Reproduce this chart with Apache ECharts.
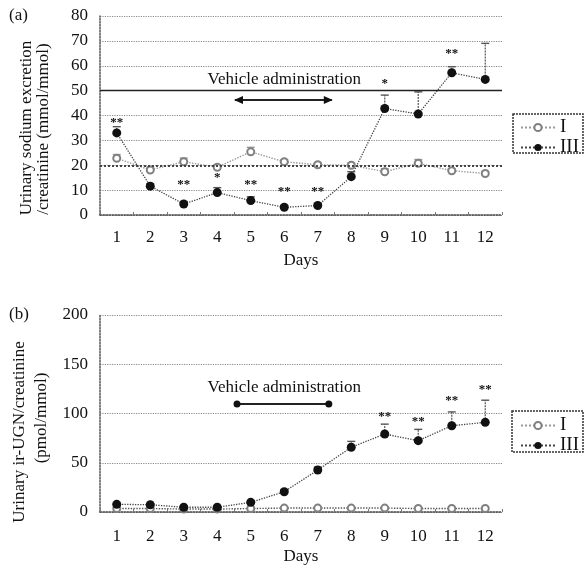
<!DOCTYPE html>
<html><head><meta charset="utf-8">
<script src="https://cdn.jsdelivr.net/npm/echarts@6/dist/echarts.min.js"></script>
<style>html,body{margin:0;padding:0;background:#fff}#c{width:584px;height:571px}</style>
</head><body><div id="c"></div>
<script>
// ---------- data ----------
const days = ['1','2','3','4','5','6','7','8','9','10','11','12'];
// panel (a): urinary sodium excretion / creatinine (mmol/mmol)
const sodiumI   = [22.8, 18.1, 21.4, 19.2, 25.4, 21.4, 20.2, 20.0, 17.4, 20.8, 17.8, 16.7];
const sodiumIII = [33.0, 11.6, 4.4, 9.0, 5.8, 3.1, 3.8, 15.4, 42.8, 40.6, 57.2, 54.5];
const sodiumErrI   = [1.5, 1.2, 1.5, 1.0, 1.8, 0.8, 0.8, 0.8, 1.2, 1.5, 0.8, 0.8];
const sodiumErrIII = [2.5, 1.0, 1.0, 2.0, 1.5, 0.8, 0.8, 2.0, 5.4, 8.9, 2.4, 14.5];
const sodiumStarDay  = [0, 2, 3, 4, 5, 6, 8, 10];
const sodiumStarVal  = [37, 12.4, 15.1, 12.4, 9.4, 9.4, 53, 65];
const sodiumStarText = ['**','**','*','**','**','**','*','**'];
const sodiumVehicle = [3.53, 6.42, 46.2, 54.6]; // from band, to band, arrow value, label value
// panel (b): urinary ir-UGN / creatinine (pmol/mmol)
const ugnI   = [3.5, 3.5, 3.0, 3.0, 3.5, 4.0, 4.0, 4.0, 4.0, 3.5, 3.5, 3.5];
const ugnIII = [7.8, 7.4, 4.8, 4.8, 9.8, 20.6, 42.6, 65.7, 79.2, 72.4, 87.6, 91.0];
const ugnErrIII = [1.0, 1.0, 0.5, 0.5, 1.0, 2.0, 3.0, 6.0, 10.0, 11.5, 14.0, 22.5];
const ugnStarDay  = [8, 9, 10, 11];
const ugnStarVal  = [97, 92, 113, 124];
const ugnStarText = ['**','**','**','**'];
const ugnVehicle = [3.59, 6.33, 109.6, 126];
const labelVehicle = 'Vehicle administration';
const yNameA = ['Urinary sodium excretion', '/creatinine (mmol/mmol)'];
const yNameB = ['Urinary ir-UGN/creatinine', '(pmol/mmol)'];

// ---------- chart ----------
const FONT = '"Liberation Serif", "DejaVu Serif", serif';
const INK = '#111';
const chart = echarts.init(document.getElementById('c'), null, {renderer:'canvas'});

function xAxisCfg(gi, margin, gap){
  return {type:'category', gridIndex:gi, data:days, boundaryGap:true,
    axisLine:{show:true, lineStyle:{color:'#444', width:1.5, type:'dotted'}},
    axisTick:{show:true, inside:true, length:3, lineStyle:{color:'#777'}},
    axisLabel:{color:INK, fontFamily:FONT, fontSize:17, margin:margin},
    name:'Days', nameLocation:'middle', nameGap:gap,
    nameTextStyle:{color:INK, fontFamily:FONT, fontSize:17},
    splitLine:{show:false}};
}
function yAxisCfg(gi, max, interval){
  return {type:'value', gridIndex:gi, min:0, max:max, interval:interval,
    axisLine:{show:true, lineStyle:{color:'#555', width:1.5, type:'dotted'}},
    axisTick:{show:false},
    axisLabel:{color:INK, fontFamily:FONT, fontSize:17, margin:12},
    splitLine:{show:true, lineStyle:{color:'#8a8a8a', width:1.2, type:'dotted'}}};
}
function errSeries(vals, errs, gi, color){
  return {type:'custom', xAxisIndex:gi, yAxisIndex:gi, silent:true, z:3,
    data: vals.map((v,i)=>[i, v, v+errs[i]]),
    renderItem:(params, api)=>{
      const p0 = api.coord([api.value(0), api.value(1)]);
      const p1 = api.coord([api.value(0), api.value(2)]);
      return {type:'group', children:[
        {type:'line', shape:{x1:p0[0], y1:p0[1], x2:p1[0], y2:p1[1]}, style:{stroke:color, lineWidth:1.2, lineDash:[2,1]}},
        {type:'line', shape:{x1:p1[0]-4, y1:p1[1], x2:p1[0]+4, y2:p1[1]}, style:{stroke:color, lineWidth:1.4}}
      ]};
    }};
}
function starSeries(dayIdx, vals, texts, gi){
  return {type:'custom', xAxisIndex:gi, yAxisIndex:gi, silent:true, z:5,
    data: dayIdx.map((d,i)=>[d, vals[i], i]),
    renderItem:(params, api)=>{
      const p = api.coord([api.value(0), api.value(1)]);
      return {type:'text', x:p[0], y:p[1], style:{text:texts[api.value(2)], fill:INK,
        font:'bold 13px ' + FONT, align:'center', verticalAlign:'middle'}};
    }};
}
function vehicleSeries(v, gi, arrowHeads){
  return {type:'custom', xAxisIndex:gi, yAxisIndex:gi, silent:true, z:5,
    data: [[0, v[2]]],
    renderItem:(params, api)=>{
      const p0 = api.coord([0, v[2]]);
      const bw = api.size([1, 0])[0];
      const xa = p0[0] + v[0]*bw, xb = p0[0] + v[1]*bw, y = p0[1];
      const pl = api.coord([5, v[3]]);
      const ch = [
        {type:'line', shape:{x1:xa, y1:y, x2:xb, y2:y}, style:{stroke:'#222', lineWidth:2}},
        {type:'text', x:pl[0], y:pl[1], style:{text:labelVehicle, fill:INK, font:'17px ' + FONT, align:'center', verticalAlign:'middle'}}
      ];
      if (arrowHeads){
        ch.push({type:'polygon', shape:{points:[[xa-1,y],[xa+8,y-4],[xa+8,y+4]]}, style:{fill:'#111'}});
        ch.push({type:'polygon', shape:{points:[[xb+1,y],[xb-8,y-4],[xb-8,y+4]]}, style:{fill:'#111'}});
      } else {
        ch.push({type:'circle', shape:{cx:xa, cy:y, r:3.5}, style:{fill:'#111'}});
        ch.push({type:'circle', shape:{cx:xb, cy:y, r:3.5}, style:{fill:'#111'}});
      }
      return {type:'group', children:ch};
    }};
}
function lineI(vals, gi, lineColor){
  return {name:'I', type:'line', xAxisIndex:gi, yAxisIndex:gi, data:vals, z:4,
    symbol:'emptyCircle', symbolSize:7, showAllSymbol:true,
    lineStyle:{color:lineColor, width:1.4, type:'dotted'},
    itemStyle:{color:'#808080', borderColor:'#808080', borderWidth:1.5}};
}
function lineIII(vals, gi, extra){
  return Object.assign({name:'III', type:'line', xAxisIndex:gi, yAxisIndex:gi, data:vals, z:4,
    symbol:'circle', symbolSize:9,
    lineStyle:{color:'#444', width:1.3, type:'dotted'},
    itemStyle:{color:'#111'}}, extra||{});
}
function legendCfg(top){
  return {data:['I','III'], orient:'vertical', left:516, top:top, itemWidth:34, itemHeight:9, itemGap:1,
    padding:[2,4], selectedMode:false,
    textStyle:{color:INK, fontFamily:FONT, fontSize:19, lineHeight:18}};
}
function yName(lines, xs, ys){
  return lines.map((t,i)=>({type:'text', x:xs[i], y:ys[i], rotation:Math.PI/2,
    style:{text:t, fill:INK, font:'17px ' + FONT, align:'center', verticalAlign:'middle'}}));
}

const option = {
  backgroundColor:'#fff',
  animation:false,
  grid:[
    {left:100, right:82, top:16, height:199},
    {left:100, right:82, top:315, height:197}
  ],
  xAxis:[xAxisCfg(0, 14, 37), xAxisCfg(1, 16, 36)],
  yAxis:[yAxisCfg(0, 80, 10), yAxisCfg(1, 200, 50)],
  legend:[legendCfg(116), legendCfg(414)],
  graphic:[
    {type:'text', left:9, top:7, style:{text:'(a)', fill:INK, font:'17px ' + FONT}},
    {type:'text', left:9, top:306, style:{text:'(b)', fill:INK, font:'17px ' + FONT}},
    {type:'rect', shape:{x:513, y:114, width:70, height:39}, style:{fill:'none', stroke:'#333', lineWidth:1.5, lineDash:[2,1]}},
    {type:'rect', shape:{x:512, y:411, width:71, height:41}, style:{fill:'none', stroke:'#333', lineWidth:1.5, lineDash:[2,1]}}
  ].concat(yName(yNameA, [27, 44], [128, 129])).concat(yName(yNameB, [20, 42], [432, 418])),
  series:[
    errSeries(sodiumI, sodiumErrI, 0, '#999'),
    errSeries(sodiumIII, sodiumErrIII, 0, '#555'),
    lineI(sodiumI, 0, '#9a9a9a'),
    lineIII(sodiumIII, 0, {markLine:{silent:true, symbol:'none', label:{show:false},
      data:[
        {yAxis:50, lineStyle:{color:'#222', width:1.3, type:'solid'}},
        {yAxis:20, lineStyle:{color:'#444', width:2, type:'dotted'}}
      ]}}),
    starSeries(sodiumStarDay, sodiumStarVal, sodiumStarText, 0),
    vehicleSeries(sodiumVehicle, 0, true),
    errSeries(ugnIII, ugnErrIII, 1, '#555'),
    lineI(ugnI, 1, '#555'),
    lineIII(ugnIII, 1),
    starSeries(ugnStarDay, ugnStarVal, ugnStarText, 1),
    vehicleSeries(ugnVehicle, 1, false)
  ]
};
chart.setOption(option);
</script>
</body></html>
